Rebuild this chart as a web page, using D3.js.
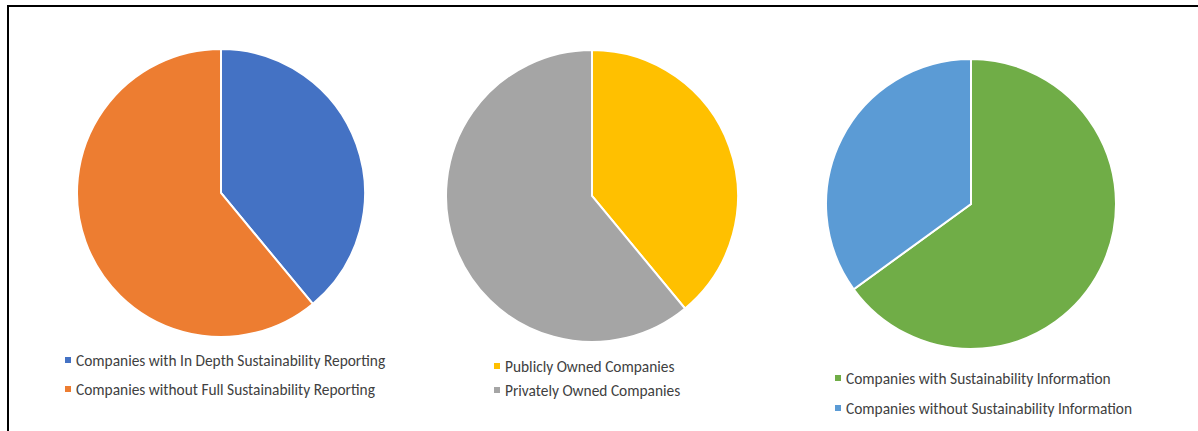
<!DOCTYPE html>
<html>
<head>
<meta charset="utf-8">
<script src="https://cdn.jsdelivr.net/npm/d3@7"></script>
<style>
  html, body { margin: 0; padding: 0; background: #fff; overflow: hidden; }
  svg { display: block; }
  text { font-family: Carlito, "Open Sans", "Noto Sans", sans-serif; fill: #404040; }
</style>
</head>
<body>
<svg id="chart" width="1198" height="431"></svg>
<script>
// Three pies: reporting depth, ownership, sustainability info
const pie1Labels = ['Companies with In Depth Sustainability Reporting', 'Companies without Full Sustainability Reporting'];
const pie1Values = [39, 61];
const pie1Colors = ['#4472C4', '#ED7D31'];

const pie2Labels = ['Publicly Owned Companies', 'Privately Owned Companies'];
const pie2Values = [39, 61];
const pie2Colors = ['#FFC000', '#A5A5A5'];

const pie3Labels = ['Companies with Sustainability Information', 'Companies without Sustainability Information'];
const pie3Values = [65, 35];
const pie3Colors = ['#70AD47', '#5B9BD5'];

const svg = d3.select('#chart');

// outer frame (right/bottom edges fall outside the picture)
svg.append('path')
  .attr('d', 'M8,431 V6 H1198')
  .attr('fill', 'none')
  .attr('stroke', '#000')
  .attr('stroke-width', 2);

const panels = [
  { labels: pie1Labels, values: pie1Values, colors: pie1Colors, cx: 221, cy: 193, r: 144,
    lx: 65, ly: 360, gap: 29 },
  { labels: pie2Labels, values: pie2Values, colors: pie2Colors, cx: 592, cy: 196, r: 146,
    lx: 494, ly: 366, gap: 24 },
  { labels: pie3Labels, values: pie3Values, colors: pie3Colors, cx: 971, cy: 204, r: 145,
    lx: 835, ly: 378, gap: 30 }
];

const pie = d3.pie().sort(null);

panels.forEach(p => {
  const arc = d3.arc().innerRadius(0).outerRadius(p.r);
  const g = svg.append('g').attr('transform', `translate(${p.cx},${p.cy})`);
  g.selectAll('path')
    .data(pie(p.values))
    .enter()
    .append('path')
    .attr('d', arc)
    .attr('fill', (d, i) => p.colors[i])
    .attr('stroke', '#fff')
    .attr('stroke-width', 2);

  // legend
  const lg = svg.append('g').attr('transform', `translate(${p.lx},${p.ly})`);
  const items = lg.selectAll('g')
    .data(p.labels)
    .enter()
    .append('g')
    .attr('transform', (d, i) => `translate(0,${i * p.gap})`);
  items.append('rect')
    .attr('x', 0).attr('y', -3)
    .attr('width', 6).attr('height', 6)
    .attr('fill', (d, i) => p.colors[i]);
  items.append('text')
    .attr('transform', 'translate(11,0) scale(1,1.1)')
    .attr('dy', '0.35em')
    .attr('font-size', 15.4)
    .text(d => d);
});
</script>
</body>
</html>
